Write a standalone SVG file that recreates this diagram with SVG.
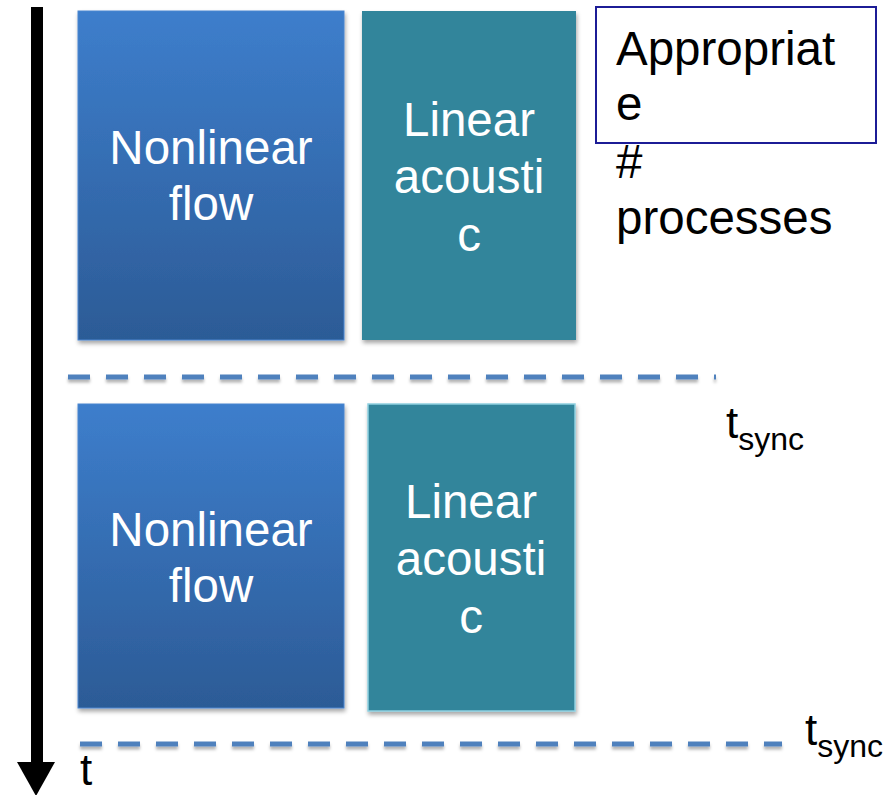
<svg xmlns="http://www.w3.org/2000/svg" width="895" height="795" viewBox="0 0 895 795">
  <defs>
    <linearGradient id="flowFill" x1="0" y1="0" x2="0" y2="1">
      <stop offset="0" stop-color="#3d7ecc"/>
      <stop offset="1" stop-color="#2c5b96"/>
    </linearGradient>
    <filter id="shadow" x="-10%" y="-10%" width="120%" height="125%">
      <feDropShadow dx="1" dy="3" stdDeviation="2" flood-color="#000" flood-opacity="0.35"/>
    </filter>
    <filter id="lineShadow" filterUnits="userSpaceOnUse" x="0" y="0" width="895" height="795">
      <feDropShadow dx="0" dy="3" stdDeviation="1.5" flood-color="#000" flood-opacity="0.3"/>
    </filter>
  </defs>
  <style>
    .label { font-family: "Liberation Sans", Arial, sans-serif; font-size: 47.5px; fill: #ffffff; text-anchor: middle; }
    .note { font-family: "Liberation Sans", Arial, sans-serif; font-size: 47.5px; fill: #000000; }
    .time { font-family: "Liberation Sans", Arial, sans-serif; font-size: 44px; fill: #000000; }
    .sub { font-size: 32px; }
    .flow { fill: url(#flowFill); stroke: #4a86cf; stroke-width: 1; filter: url(#shadow); }
    .acoustic { fill: #31859b; filter: url(#shadow); }
    .sync { stroke: #4f81bd; stroke-width: 5; stroke-dasharray: 22 16; fill: none; }
  </style>
  <rect width="895" height="795" fill="#ffffff"/>

  <!-- time axis -->
  <g id="time-axis">
    <rect x="31" y="7" width="12" height="756" fill="#000000"/>
    <polygon points="17,762 55,762 36,796" fill="#000000"/>
    <text class="time" x="80" y="785">t</text>
  </g>

  <!-- synchronisation lines -->
  <g id="connectors" filter="url(#lineShadow)">
    <line class="sync" x1="68" y1="377" x2="716" y2="377"/>
    <line class="sync" x1="80" y1="744" x2="782" y2="744"/>
  </g>

  <g id="tsync-1">
    <text class="time" x="726" y="438">t<tspan class="sub" dy="12">sync</tspan></text>
  </g>
  <g id="tsync-2">
    <text class="time" x="805" y="745">t<tspan class="sub" dy="12">sync</tspan></text>
  </g>

  <!-- first step -->
  <g id="flow-1">
    <rect class="flow" x="78" y="11" width="266" height="329"/>
    <text class="label" x="211" y="164">Nonlinear</text>
    <text class="label" x="211" y="220">flow</text>
  </g>
  <g id="acoustic-1">
    <rect class="acoustic" x="362" y="11" width="214" height="329"/>
    <text class="label" x="469" y="136">Linear</text>
    <text class="label" x="469" y="193">acousti</text>
    <text class="label" x="469" y="251">c</text>
  </g>

  <!-- second step -->
  <g id="flow-2">
    <rect class="flow" x="78" y="404" width="266" height="304"/>
    <text class="label" x="211" y="546">Nonlinear</text>
    <text class="label" x="211" y="602">flow</text>
  </g>
  <g id="acoustic-2">
    <rect class="acoustic" x="368" y="404" width="207" height="307" stroke="#8fd0e0" stroke-width="1.5"/>
    <text class="label" x="471" y="518">Linear</text>
    <text class="label" x="471" y="575">acousti</text>
    <text class="label" x="471" y="633">c</text>
  </g>

  <!-- process count note -->
  <g id="note">
    <rect x="596" y="7" width="280" height="136" fill="none" stroke="#1c1c96" stroke-width="2"/>
    <text class="note" x="616" y="65">Appropriat</text>
    <text class="note" x="616" y="120">e</text>
    <text class="note" x="616" y="178">#</text>
    <text class="note" x="616" y="234">processes</text>
  </g>
</svg>
